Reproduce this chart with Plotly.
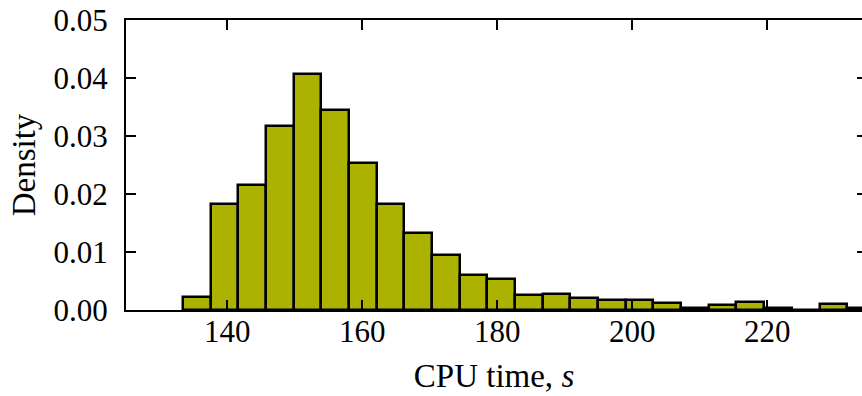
import plotly.graph_objects as go

# Histogram of CPU times: bin left edges (s) and density per bin
bin_start = 133.42
bin_width = 4.101
density = [
    0.0022, 0.0182, 0.0216, 0.0318, 0.0407, 0.0345, 0.0253, 0.0182,
    0.0133, 0.0094, 0.0060, 0.0053, 0.0026, 0.0027, 0.0020, 0.0017,
    0.0018, 0.0012, 0.0003, 0.0008, 0.0013, 0.0004, 0.0000, 0.0010,
    0.0003,
]
x_ticks = [140, 160, 180, 200, 220]
y_ticks = [0.00, 0.01, 0.02, 0.03, 0.04, 0.05]
y_tick_text = ["0.00", "0.01", "0.02", "0.03", "0.04", "0.05"]

centers = [bin_start + bin_width * (i + 0.5) for i in range(len(density))]

FONT = "Liberation Serif"
x_range = [125, 125 + 736 / 6.75]
y_range = [0, 0.05]

fig = go.Figure()
fig.add_trace(go.Bar(
    x=centers,
    y=density,
    width=[bin_width] * len(density),
    marker=dict(color="#abb300", line=dict(color="black", width=2.5)),
    showlegend=False,
    hoverinfo="x+y",
))
# Empty trace carrying the right-hand tick axis
fig.add_trace(go.Scatter(x=[], y=[], yaxis="y2", showlegend=False))

axis_common = dict(
    showgrid=False,
    zeroline=False,
    ticks="inside",
    ticklen=10,
    tickwidth=1.5,
    tickcolor="black",
    layer="above traces",
    tickfont=dict(family=FONT, size=31, color="black"),
)

fig.update_layout(
    width=862,
    height=396,
    margin=dict(l=126, r=0, t=20, b=86),
    paper_bgcolor="white",
    plot_bgcolor="white",
    bargap=0,
    xaxis=dict(
        range=x_range,
        tickvals=x_ticks,
        showline=True,
        linecolor="black",
        linewidth=2,
        mirror="ticks",
        ticklabelstandoff=-7,
        title=dict(text="CPU time, <i>s</i>",
                   font=dict(family=FONT, size=33, color="black"),
                   standoff=16),
        **axis_common,
    ),
    yaxis=dict(
        range=y_range,
        tickvals=y_ticks,
        ticktext=y_tick_text,
        showline=True,
        linecolor="black",
        linewidth=2,
        mirror=False,
        ticklabelstandoff=10,
        title=dict(text="Density",
                   font=dict(family=FONT, size=33, color="black"),
                   standoff=8),
        **axis_common,
    ),
    yaxis2=dict(
        overlaying="y",
        side="right",
        anchor="free",
        position=1,
        range=y_range,
        tickvals=y_ticks,
        showticklabels=False,
        showline=False,
        showgrid=False,
        zeroline=False,
        ticks="inside",
        ticklen=5,
        tickwidth=1.5,
        tickcolor="black",
    ),
)

fig.write_html("out.html")
